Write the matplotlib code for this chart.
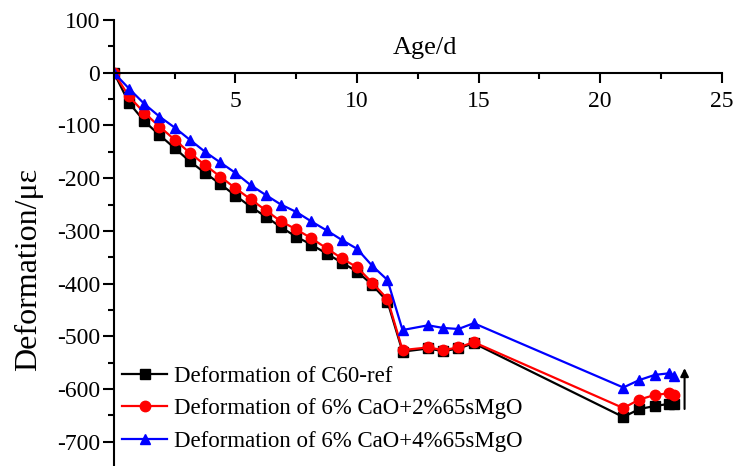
import matplotlib
matplotlib.use("Agg")
import matplotlib.pyplot as plt
from matplotlib.ticker import MultipleLocator

plt.rcParams["font.family"] = ["Liberation Serif", "DejaVu Serif"]
plt.rcParams["axes.unicode_minus"] = False

# Age in days
age = [0, 0.62, 1.25, 1.87, 2.5, 3.12, 3.75, 4.37, 5.0, 5.62, 6.25, 6.87,
       7.5, 8.12, 8.75, 9.37, 10.0, 10.62, 11.25, 11.87, 12.92, 13.54,
       14.17, 14.8, 20.95, 21.6, 22.25, 22.85, 23.05]

# Deformation (micro-strain)
ref = [0, -57, -92, -118, -143, -168, -190, -211, -233, -254, -273, -293,
       -311, -326, -343, -360, -377, -402, -434, -529, -523, -528,
       -523, -513, -653, -638, -632, -628, -628]
mgo2 = [0, -45, -76, -102, -127, -152, -175, -197, -219, -240, -261, -282,
        -297, -314, -333, -352, -369, -398, -429, -526, -521, -526,
        -521, -511, -636, -620, -611, -608, -611]
mgo4 = [0, -30, -59, -83, -104, -127, -150, -170, -190, -213, -232, -250,
        -264, -282, -299, -317, -334, -366, -393, -488, -479, -484,
        -486, -475, -597, -583, -573, -570, -575]

labels = ["Deformation of C60-ref",
          "Deformation of 6% CaO+2%65sMgO",
          "Deformation of 6% CaO+4%65sMgO"]

# arrow marking the recovery at the end of the test
arrow_x = 23.47
arrow_from, arrow_to = -643, -555

fig = plt.figure(figsize=(7.35, 4.66), dpi=100)
ax = fig.add_axes([0.155, 0.001, 0.827, 0.956])

ax.plot(age, ref, "-s", color="black", lw=1.6, ms=6.5, label=labels[0])
ax.plot(age, mgo2, "-o", color="red", lw=1.6, ms=7.5, label=labels[1])
ax.plot(age, mgo4, "-^", color="blue", lw=1.6, ms=7.5, label=labels[2])

ax.annotate("", xy=(arrow_x, arrow_to), xytext=(arrow_x, arrow_from),
            arrowprops=dict(arrowstyle="-|>", color="black", lw=1.5,
                            mutation_scale=12))

ax.set_xlim(0, 25)
ax.set_ylim(-745, 100)

# x axis runs through zero, no box around the plot
ax.spines["bottom"].set_position(("data", 0))
ax.spines["top"].set_visible(False)
ax.spines["right"].set_visible(False)
for s in ("bottom", "left"):
    ax.spines[s].set_linewidth(1.5)

ax.xaxis.set_major_locator(MultipleLocator(5))
ax.xaxis.set_minor_locator(MultipleLocator(2.5))
ax.yaxis.set_major_locator(MultipleLocator(100))
ax.yaxis.set_minor_locator(MultipleLocator(50))

ax.set_xticks([5, 10, 15, 20, 25])
ax.tick_params(axis="x", which="major", direction="out", length=7, width=1.5,
               labelsize=17, pad=6)
ax.tick_params(axis="x", which="minor", direction="out", length=4, width=1.5)
ax.tick_params(axis="y", which="major", direction="out", length=8, width=1.5,
               labelsize=17, pad=2)
ax.tick_params(axis="y", which="minor", direction="out", length=4, width=1.5)

ax.text(12.8, 47, "Age/d", fontsize=19, ha="center", va="center")
ax.text(-0.14, 0.44, "Deformation/\u03bc\u03b5", fontsize=23, rotation=90,
        ha="center", va="center", transform=ax.transAxes)

ax.legend(loc="lower left", bbox_to_anchor=(-0.01, 0.0), frameon=False,
          fontsize=16.5, handlelength=2.0, handletextpad=0.3,
          labelspacing=0.5, borderaxespad=0.2)

fig.savefig("out.png", dpi=100)
